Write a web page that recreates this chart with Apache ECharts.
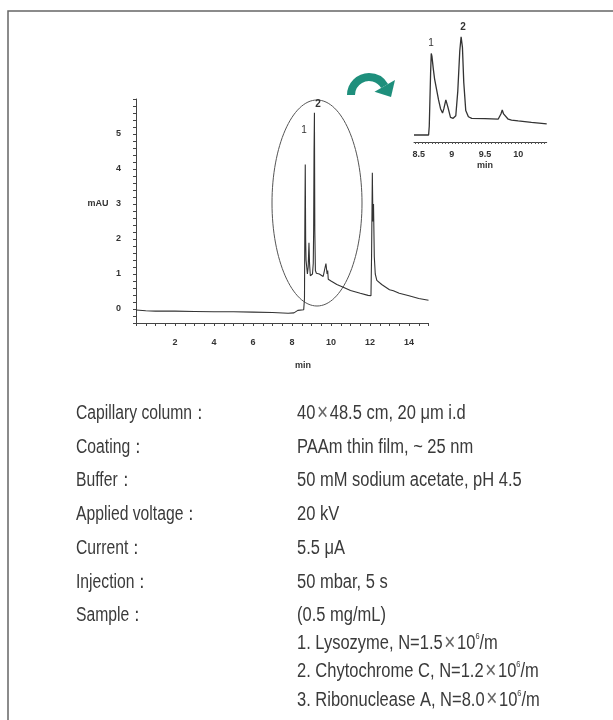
<!DOCTYPE html>
<html><head><meta charset="utf-8">
<script src="https://cdn.jsdelivr.net/npm/echarts@6/dist/echarts.min.js"></script>
<style>html,body{margin:0;padding:0;background:#fff}#c{width:613px;height:720px}</style>
</head><body><div id="c"></div>
<script>
// ---- Main electropherogram (minutes, mAU) ----
const mainTime = [0, 0.5, 1, 2, 3, 4, 5, 6, 7, 7.8, 8.1, 8.3, 8.6, 8.64, 8.66, 8.68, 8.70, 8.72, 8.76, 8.79, 8.83, 8.87, 8.9, 8.94, 9.0, 9.05, 9.09, 9.11, 9.13, 9.15, 9.17, 9.2, 9.25, 9.4, 9.6, 9.7, 9.74, 9.77, 9.8, 9.83, 9.86, 10.0, 10.3, 10.6, 11, 11.5, 11.9, 12.05, 12.08, 12.12, 12.15, 12.18, 12.22, 12.27, 12.35, 12.6, 13, 13.1, 13.2, 13.5, 14, 14.5, 15];
const mainAbs  = [-0.03, -0.05, -0.06, -0.06, -0.07, -0.08, -0.08, -0.09, -0.1, -0.12, -0.11, -0.04, -0.02, 0.3, 2.5, 4.13, 2.0, 1.4, 1.35, 1.0, 1.2, 1.89, 1.3, 0.95, 1.0, 1.0, 1.3, 2.25, 4.5, 5.61, 2.25, 1.1, 1.02, 1.0, 0.93, 0.9, 1.3, 1.33, 1.0, 1.1, 0.85, 0.8, 0.7, 0.63, 0.53, 0.45, 0.39, 0.38, 1.5, 3.89, 2.5, 3.0, 1.5, 1.0, 0.82, 0.7, 0.55, 0.58, 0.52, 0.45, 0.38, 0.3, 0.25];
const mainXTicks = [2, 4, 6, 8, 10, 12, 14];
const mainYTicks = [0, 1, 2, 3, 4, 5];

// ---- Inset (zoom of 8.4 - 10.4 min) ----
const insetTime = [8.43, 8.6, 8.65, 8.66, 8.68, 8.69, 8.70, 8.72, 8.74, 8.77, 8.80, 8.83, 8.86, 8.88, 8.91, 8.94, 8.98, 9.02, 9.06, 9.09, 9.12, 9.14, 9.16, 9.18, 9.21, 9.25, 9.3, 9.5, 9.7, 9.74, 9.76, 9.78, 9.8, 9.85, 9.9, 10.0, 10.2, 10.43];
const insetAbs  = [0, 0, 0, 0.5, 3.5, 4.65, 4.5, 3.8, 3.2, 2.6, 2.0, 1.5, 1.25, 1.5, 2.0, 1.6, 1.0, 0.95, 1.1, 2.5, 4.8, 5.6, 5.0, 3.0, 1.4, 1.04, 0.95, 0.93, 0.91, 1.2, 1.42, 1.2, 1.1, 0.9, 0.85, 0.8, 0.72, 0.63];
const insetXLabels = [8.5, 9, 9.5, 10];

// ---- Conditions table ----
const condLabels = ['Capillary column：', 'Coating：', 'Buffer：', 'Applied voltage：', 'Current：', 'Injection：', 'Sample：'];
const condValues = ['40{x|×}48.5 cm, 20 μm i.d', 'PAAm thin film, ~ 25 nm', '50 mM sodium acetate, pH 4.5', '20 kV', '5.5 μA', '50 mbar, 5 s', '(0.5 mg/mL)'];
const sampleLines = ['1. Lysozyme, N=1.5{x|×}10{s|6}/m', '2. Chytochrome C, N=1.2{x|×}10{s|6}/m', '3. Ribonuclease A, N=8.0{x|×}10{s|6}/m'];
const peakLabels = ['1', '2'];

const chart = echarts.init(document.getElementById('c'));
const lineColor = '#333';
const axFont = 'Liberation Sans, Arial, sans-serif';
const txtFont = "'Liberation Sans', Arial, sans-serif";
const txtColor = '#3a3a3a';
const near = (v, arr) => arr.some(a => Math.abs(a - v) < 1e-6);

const insetTickVals = [];
for (let i = 0; i <= 39; i++) insetTickVals.push(+(8.45 + i * 0.05).toFixed(2));

const richStyles = {
  x: { fontFamily: txtFont, fontSize: 23, color: '#666', fill: '#666', padding: [0, 2, 0, 2] },
  s: { fontSize: 9, fontFamily: txtFont, color: txtColor, fill: txtColor, verticalAlign: 'top', padding: [0, 0, 9, 0] }
};

const graphics = [];
graphics.push({ type: 'rect', silent: true, shape: { x: 8, y: 11, width: 700, height: 800 }, style: { fill: 'none', stroke: '#666', lineWidth: 1.5 } });
graphics.push({ type: 'ellipse', shape: { cx: 317, cy: 203, rx: 45, ry: 103 }, style: { fill: 'none', stroke: '#555', lineWidth: 1 } });
// curved arrow
graphics.push({ type: 'sector', shape: { cx: 369, cy: 95, r: 22, r0: 14, startAngle: Math.PI, endAngle: Math.PI * 11 / 6, clockwise: true }, style: { fill: '#1e8f7c' } });
graphics.push({ type: 'polygon', shape: { points: [[395, 80], [374.5, 91.8], [391, 97]] }, style: { fill: '#1e8f7c' } });
// peak labels
graphics.push({ type: 'text', x: 304, y: 130, style: { text: peakLabels[0], fontSize: 10, fontFamily: axFont, fill: '#333', align: 'center', verticalAlign: 'middle' } });
graphics.push({ type: 'text', x: 318, y: 104, style: { text: peakLabels[1], fontSize: 10, fontFamily: axFont, fill: '#333', align: 'center', verticalAlign: 'middle', fontWeight: 'bold' } });
graphics.push({ type: 'text', x: 431, y: 43, style: { text: peakLabels[0], fontSize: 10, fontFamily: axFont, fill: '#333', align: 'center', verticalAlign: 'middle' } });
graphics.push({ type: 'text', x: 463, y: 27, style: { text: peakLabels[1], fontSize: 10, fontFamily: axFont, fill: '#333', align: 'center', verticalAlign: 'middle', fontWeight: 'bold' } });
// axis names
graphics.push({ type: 'text', x: 98, y: 204, style: { text: 'mAU', fontSize: 9, fontFamily: axFont, fontWeight: 'bold', fill: '#333', align: 'center', verticalAlign: 'middle' } });
graphics.push({ type: 'text', x: 303, y: 366, style: { text: 'min', fontSize: 9, fontFamily: axFont, fontWeight: 'bold', fill: '#333', align: 'center', verticalAlign: 'middle' } });
graphics.push({ type: 'text', x: 485, y: 166, style: { text: 'min', fontSize: 9, fontFamily: axFont, fontWeight: 'bold', fill: '#333', align: 'center', verticalAlign: 'middle' } });
// conditions table (condensed look via horizontal scale)
condLabels.forEach((t, i) => {
  const y = 413.5 + i * 33.7;
  graphics.push({ type: 'text', x: 76, y: y, scaleX: 0.785, style: { text: t, fontSize: 20, fontFamily: txtFont, fill: txtColor, align: 'left', verticalAlign: 'middle' } });
  graphics.push({ type: 'text', x: 297, y: y, scaleX: 0.825, style: { text: condValues[i], rich: richStyles, fontSize: 20, fontFamily: txtFont, fill: txtColor, align: 'left', verticalAlign: 'middle' } });
});
sampleLines.forEach((t, i) => {
  const y = 643.5 + i * 28.3;
  graphics.push({ type: 'text', x: 297, y: y, scaleX: 0.825, style: { text: t, rich: richStyles, fontSize: 20, fontFamily: txtFont, fill: txtColor, align: 'left', verticalAlign: 'middle' } });
});

chart.setOption({
  animation: false,
  backgroundColor: '#fff',
  grid: [
    { left: 136, right: 184.5, top: 99, bottom: 397 },
    { left: 414, right: 66.3, top: 21, bottom: 578 }
  ],
  xAxis: [
    { type: 'value', gridIndex: 0, min: 0, max: 15, interval: 0.5,
      axisLine: { show: true, onZero: false, lineStyle: { color: '#444', width: 1 } },
      axisTick: { show: true, length: 3, lineStyle: { color: '#444' } },
      axisLabel: { show: true, margin: 15, fontSize: 9, fontWeight: 'bold', fontFamily: axFont, color: '#333',
        formatter: v => near(v, mainXTicks) ? String(Math.round(v)) : '' },
      splitLine: { show: false } },
    { type: 'value', gridIndex: 1, min: 8.43, max: 10.43,
      axisLine: { show: true, onZero: false, lineStyle: { color: '#444', width: 1 } },
      axisTick: { show: true, length: 2, customValues: insetTickVals, lineStyle: { color: '#555' } },
      axisLabel: { show: true, margin: 8, fontSize: 9, fontWeight: 'bold', fontFamily: axFont, color: '#333', customValues: insetXLabels },
      splitLine: { show: false } }
  ],
  yAxis: [
    { type: 'value', gridIndex: 0, min: -0.4, max: 6, interval: 0.2,
      axisLine: { show: true, onZero: false, lineStyle: { color: '#444', width: 1 } },
      axisTick: { show: true, length: 3, lineStyle: { color: '#444' } },
      axisLabel: { show: true, margin: 15, fontSize: 9, fontWeight: 'bold', fontFamily: axFont, color: '#333',
        formatter: v => near(v, mainYTicks) ? String(Math.round(v)) : '' },
      splitLine: { show: false } },
    { type: 'value', gridIndex: 1, min: -0.4, max: 6.5, show: false, splitLine: { show: false } }
  ],
  series: [
    { type: 'line', xAxisIndex: 0, yAxisIndex: 0, showSymbol: false, symbol: 'none',
      lineStyle: { color: lineColor, width: 1.1 }, data: mainTime.map((t, i) => [t, mainAbs[i]]) },
    { type: 'line', xAxisIndex: 1, yAxisIndex: 1, showSymbol: false, symbol: 'none',
      lineStyle: { color: lineColor, width: 1.3 }, data: insetTime.map((t, i) => [t, insetAbs[i]]) }
  ],
  graphic: graphics
});
</script>
</body></html>
